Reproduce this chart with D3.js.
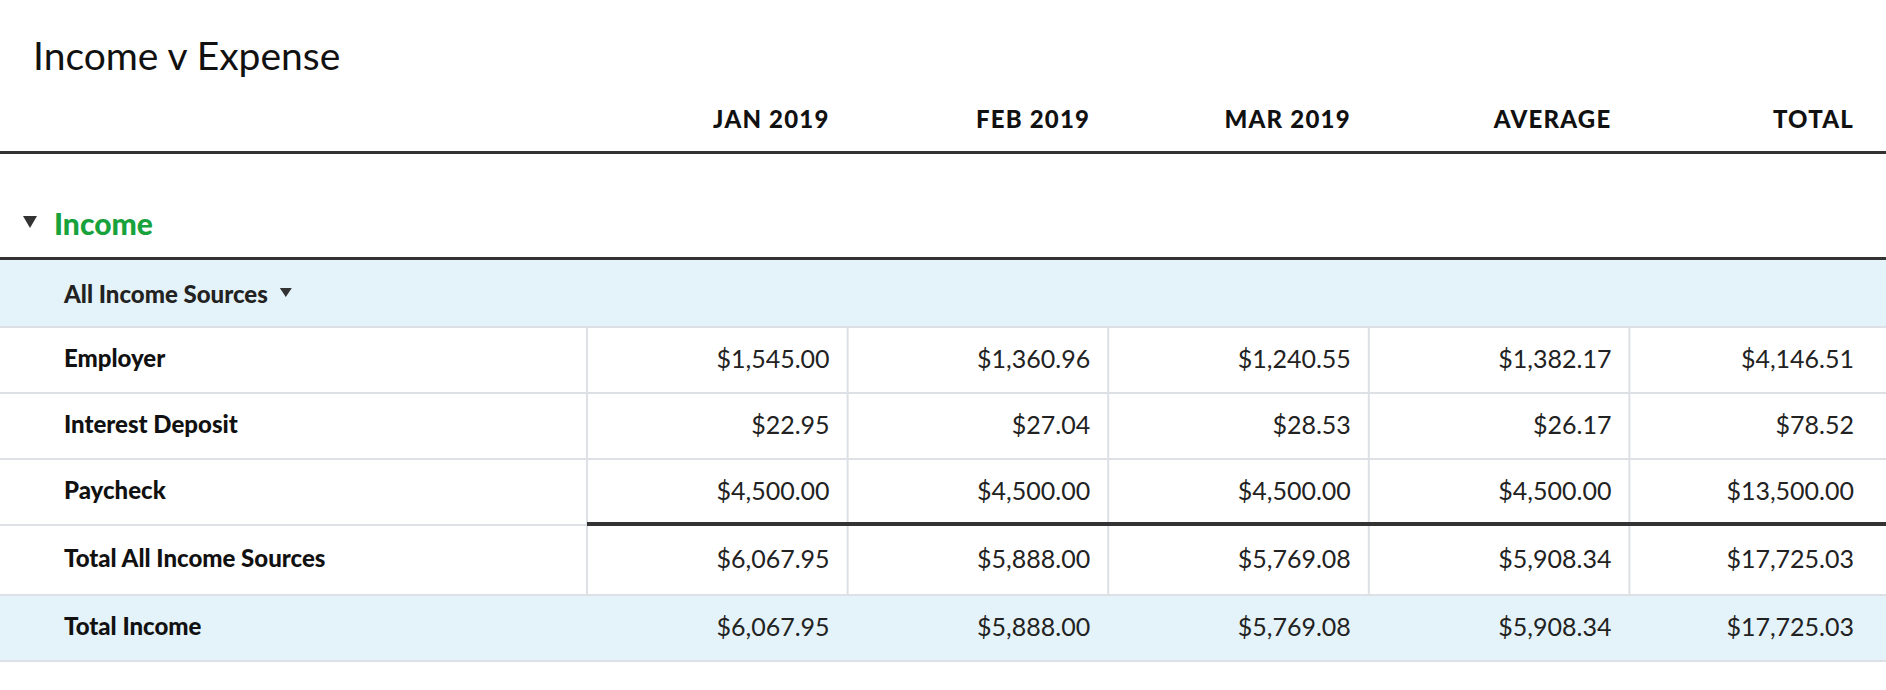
<!DOCTYPE html>
<html><head><meta charset="utf-8">
<script src="https://cdn.jsdelivr.net/npm/d3@7"></script>
<style>body{margin:0;background:#fff}text{font-family:Lato,"Noto Sans",sans-serif}</style>
</head><body>
<script>
var columns = ["JAN 2019","FEB 2019","MAR 2019","AVERAGE","TOTAL"];
var rowLabels = ["Employer","Interest Deposit","Paycheck","Total All Income Sources","Total Income"];
var employer = ["$1,545.00","$1,360.96","$1,240.55","$1,382.17","$4,146.51"];
var interest = ["$22.95","$27.04","$28.53","$26.17","$78.52"];
var paycheck = ["$4,500.00","$4,500.00","$4,500.00","$4,500.00","$13,500.00"];
var totalSources = ["$6,067.95","$5,888.00","$5,769.08","$5,908.34","$17,725.03"];
var totalIncome = ["$6,067.95","$5,888.00","$5,769.08","$5,908.34","$17,725.03"];
var rowValues = [employer, interest, paycheck, totalSources, totalIncome];

var W = 1886, H = 690;
var svg = d3.select("body").append("svg").attr("width", W).attr("height", H);

// column boundaries: label column then 5 value columns
var x = d3.scaleBand().domain(columns).range([587, 1890]);
var textRight = function (c) { return c === "TOTAL" ? 1854 : x(c) + x.bandwidth() - 18; };
var rowTops = [326, 392, 458, 524, 594, 660];
var y = d3.scaleOrdinal().domain(rowLabels).range(rowTops.slice(0, 5));
var rowH = function (i) { return rowTops[i + 1] - rowTops[i]; };

svg.append("text").attr("x", 33).attr("y", 70).attr("font-size", 39).attr("fill", "#111").text("Income v Expense");

// header
svg.selectAll(".hdr").data(columns).enter().append("text")
  .attr("x", textRight).attr("y", 128).attr("text-anchor", "end").attr("font-size", 24).attr("font-weight", 900)
  .attr("letter-spacing", 1.2).attr("fill", "#111").text(function (d) { return d; });
svg.append("rect").attr("x", 0).attr("y", 151).attr("width", W).attr("height", 3).attr("fill", "#333");

// section
svg.append("path").attr("d", "M23,216 L37,216 L30,228 Z").attr("fill", "#333");
svg.append("text").attr("x", 54).attr("y", 235).attr("font-size", 30).attr("font-weight", 900).attr("fill", "#17a23b").text("Income");
svg.append("rect").attr("x", 0).attr("y", 257).attr("width", W).attr("height", 3).attr("fill", "#333");

// group band
svg.append("rect").attr("x", 0).attr("y", 260).attr("width", W).attr("height", 66).attr("fill", "#e4f3f9");
var grp = svg.append("text").attr("x", 64).attr("y", 303).attr("font-size", 24).attr("font-weight", 900).attr("fill", "#222").text("All Income Sources");
var gx = 64 + grp.node().getComputedTextLength() + 12;
svg.append("path").attr("d", "M" + gx + ",288 L" + (gx + 12) + ",288 L" + (gx + 6) + ",297 Z").attr("fill", "#333");

// rows
var rows = svg.selectAll(".row").data(rowLabels).enter().append("g")
  .attr("transform", function (d) { return "translate(0," + y(d) + ")"; });
rows.append("rect").attr("x", 0).attr("y", 0).attr("width", W)
  .attr("height", function (d, i) { return rowH(i); })
  .attr("fill", function (d, i) { return i === 4 ? "#e4f3f9" : "#fff"; });
rows.append("rect").attr("x", 0).attr("y", 0).attr("width", W).attr("height", 2).attr("fill", "#dde1e5");
rows.append("text").attr("x", 64).attr("y", function (d, i) { return rowH(i) / 2 + 8; })
  .attr("font-size", 24).attr("font-weight", 900).attr("fill", "#111").text(function (d) { return d; });
rows.each(function (d, i) {
  var g = d3.select(this);
  if (i < 4) {
    g.selectAll(".vl").data([587].concat(columns.slice(1).map(function (c) { return x(c); }))).enter().append("rect")
      .attr("x", function (v) { return v - 1; }).attr("y", 0).attr("width", 2).attr("height", rowH(i)).attr("fill", "#dde1e5");
  }
  g.selectAll(".val").data(rowValues[i]).enter().append("text")
    .attr("x", function (v, j) { return textRight(columns[j]); })
    .attr("y", rowH(i) / 2 + 9).attr("text-anchor", "end").attr("font-size", 25).attr("fill", "#222")
    .text(function (v) { return v; });
});
svg.append("rect").attr("x", 0).attr("y", 660).attr("width", W).attr("height", 2).attr("fill", "#dde1e5");
// subtotal rule
svg.append("rect").attr("x", 587).attr("y", 522).attr("width", W - 587).attr("height", 4).attr("fill", "#333");
</script>
</body></html>
